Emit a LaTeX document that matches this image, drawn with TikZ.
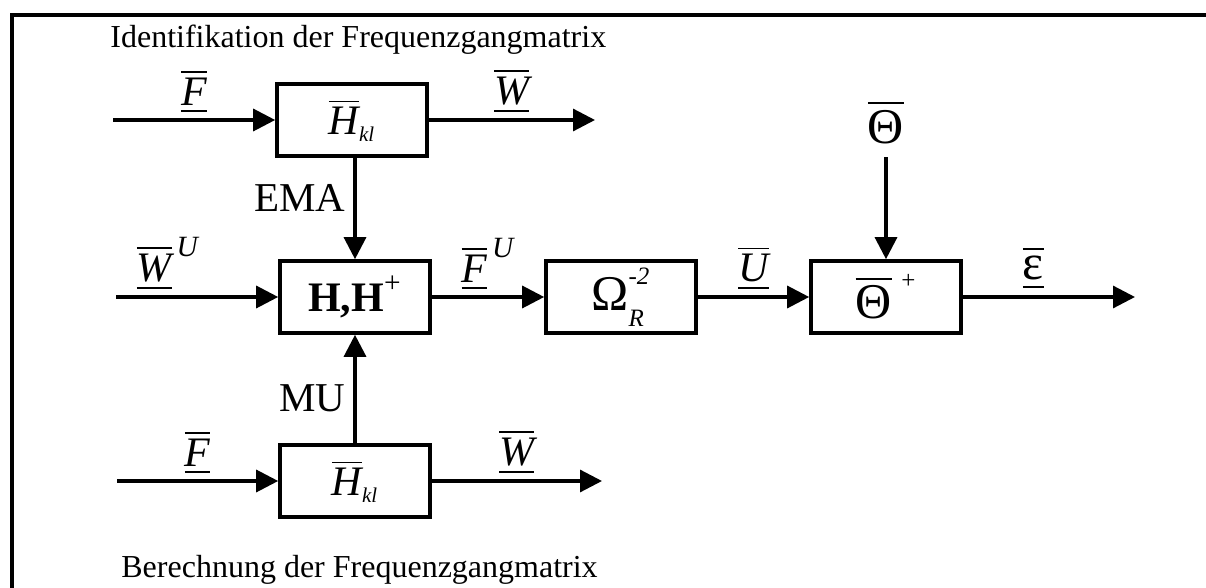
\documentclass[tikz,border=0pt]{standalone}
\usepackage{amsmath}
\usepackage{fontspec}
\setmainfont{Liberation Serif}
\usetikzlibrary{arrows.meta}

% barred and underlined signal vectors
\newcommand{\vb}[1]{\underline{\overline{\text{\itshape #1}}}}
\newcommand{\gk}{\fontsize{25}{27}\selectfont}

\begin{document}
\begin{tikzpicture}[x=0.5pt, y=-0.5pt,
  blk/.style={draw, line width=1.8pt, minimum width=75pt, minimum height=36pt,
              inner sep=0pt, font=\fontsize{21}{23}\selectfont},
  sig/.style={line width=1.6pt, -{Triangle[length=11pt, width=11pt]}},
  lbl/.style={font=\fontsize{21}{23}\selectfont, inner sep=2.5pt},
  ann/.style={font=\fontsize{20.5}{22}\selectfont, inner sep=4pt},
  ttl/.style={font=\fontsize{16}{18}\selectfont, anchor=base west, inner sep=0pt},
  frame/.style={line width=2pt},
]
\useasboundingbox (0,0) rectangle (1206,588);
\draw[frame] (1206,15) -- (12,15) -- (12,588);

\node[ttl] (tident) at (110,48)  {Identifikation der Frequenzgangmatrix};
\node[ttl] (tcalc)  at (121,577) {Berechnung der Frequenzgangmatrix};

\node[blk] (hid)   at (352,120) {$\overline{\text{\itshape H}}_{\scriptscriptstyle\text{\itshape kl}}$};
\node[blk] (hh)    at (355,297) {\textbf{H,H}$^{\raisebox{2pt}{$\scriptstyle\text{+}$}}$};
\node[blk] (hcalc) at (355,481) {$\overline{\text{\itshape H}}_{\scriptscriptstyle\text{\itshape kl}}$};
\node[blk] (om)    at (621,297) {{\gk$\text{Ω}^{\raisebox{3pt}{$\scriptscriptstyle\text{\itshape -2}$}}_{\raisebox{-2pt}{$\scriptscriptstyle\text{\itshape R}$}}$}};
\node[blk] (th)    at (886,297) {{\gk$\overline{\text{Θ}}^{\;\scriptscriptstyle\text{+}}$}};
\node[lbl, font=\gk] (thin) at (886,122) {$\overline{\text{Θ}}$};

\coordinate (fid)   at (113,120);
\coordinate (wid)   at (595,120);
\coordinate (wu)    at (116,297);
\coordinate (eps)   at (1135,297);
\coordinate (fcalc) at (117,481);
\coordinate (wcalc) at (602,481);

\draw[sig] (fid) -- node[lbl, above] {$\vb{F}$} (hid);
\draw[sig] (hid) -- node[lbl, above] {$\vb{W}$} (wid);
\draw[sig] (hid.south -| hh) -- node[ann, left, pos=0.4] {EMA} (hh);
\draw[sig] (wu) -- node[lbl, above, pos=0.32] {$\vb{W}^{\,\scriptstyle\text{\itshape U}}$} (hh);
\draw[sig] (hh) -- node[lbl, above] {$\vb{F}^{\,\scriptstyle\text{\itshape U}}$} (om);
\draw[sig] (om) -- node[lbl, above] {$\vb{U}$} (th);
\draw[sig] (th) -- node[lbl, above, pos=0.41, font=\gk] {$\underline{\overline{\text{ε}}}$} (eps);
\draw[sig, shorten <=4pt] (thin) -- (th);
\draw[sig] (hcalc) -- node[ann, left, pos=0.41] {MU} (hh);
\draw[sig] (fcalc) -- node[lbl, above] {$\vb{F}$} (hcalc);
\draw[sig] (hcalc) -- node[lbl, above] {$\vb{W}$} (wcalc);
\end{tikzpicture}
\end{document}
